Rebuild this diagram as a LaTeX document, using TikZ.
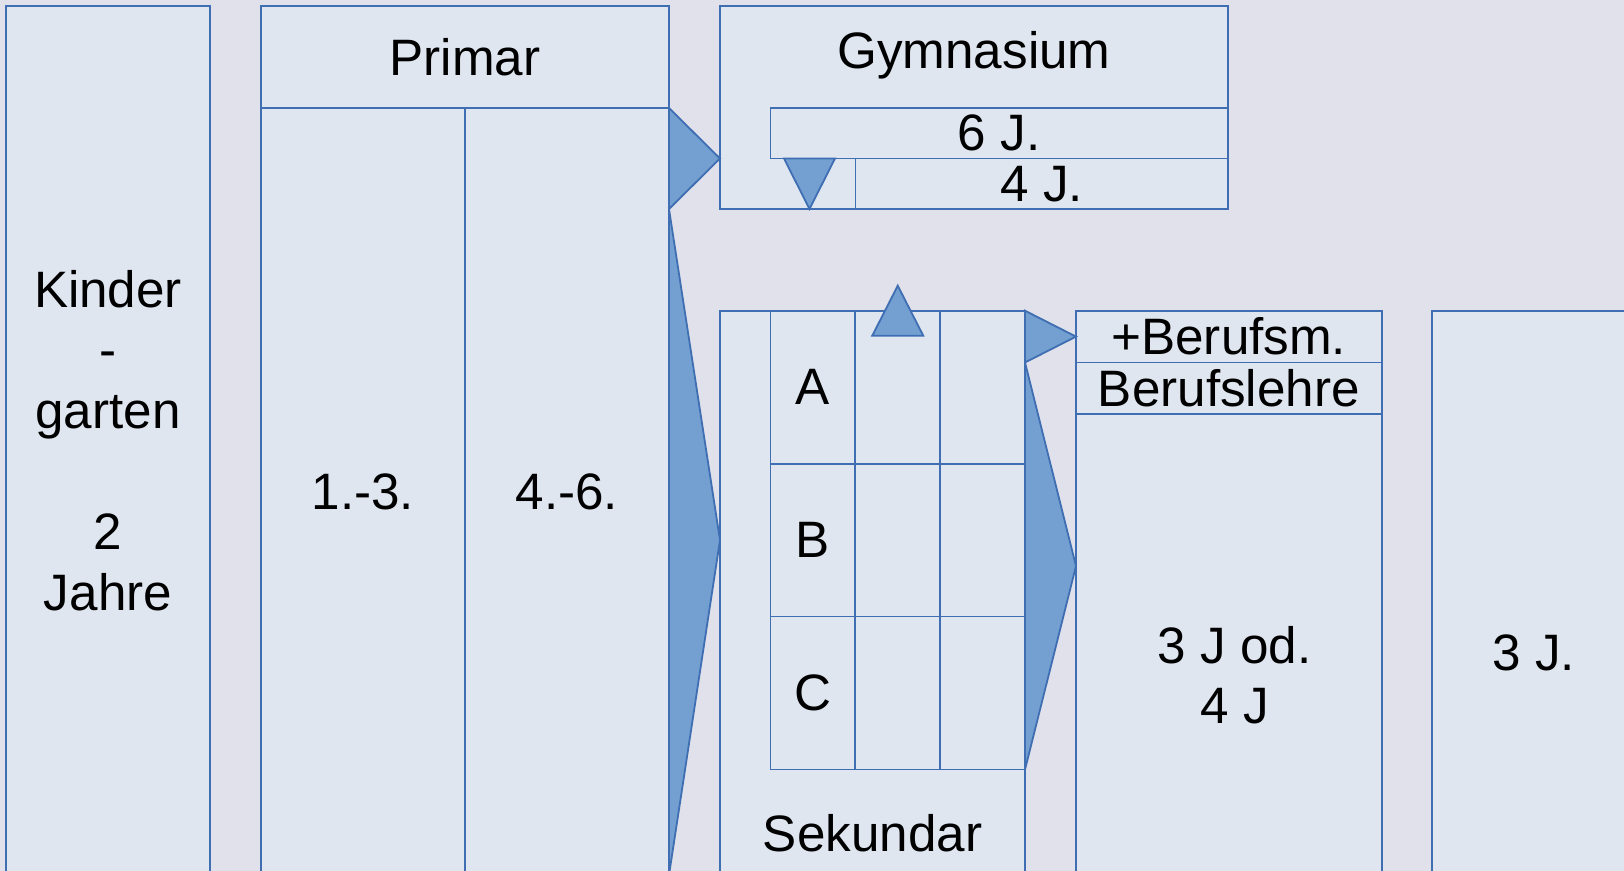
\documentclass[tikz,border=0pt]{standalone}
\usepackage{fontspec}
\setmainfont{Liberation Sans}
\usetikzlibrary{positioning,calc}
\definecolor{bgcol}{HTML}{E0E1EA}
\definecolor{boxfill}{HTML}{DFE6F0}
\definecolor{boxline}{HTML}{3F6EB2}
\definecolor{arrowfill}{HTML}{73A0D1}

\begin{document}
\begin{tikzpicture}[x=0.5pt,y=-0.5pt,font=\fontsize{25.6}{30.3}\selectfont]
\tikzstyle{block}=[rectangle,draw=boxline,fill=boxfill,line width=0.9pt,inner sep=0pt,outer sep=0pt,align=center]
\tikzstyle{cell}=[block,minimum width=42.42pt,minimum height=76.47pt]
\tikzstyle{pointer}=[draw=boxline,fill=arrowfill,line width=0.9pt,line join=miter]
\tikzstyle{caption}=[inner sep=0pt,anchor=base,align=center]

\path[use as bounding box,fill=bgcol] (0,0) rectangle (1624,871);
\clip (0,0) rectangle (1624,871);

% Kindergarten
\node[block,anchor=north west,minimum width=102pt,minimum height=434.5pt] (kg) at (6,6) {Kinder\\-\\garten\\\mbox{}\\2\\Jahre};

% Primar
\node[block,anchor=north west,minimum width=204pt,minimum height=51pt] (prim) at (261,6) {Primar};
\node[block,anchor=north west,minimum width=102pt,minimum height=383.5pt] (p13) at (prim.south west) {1.-3.};
\node[block,minimum width=102pt,minimum height=383.5pt,right=0pt of p13] (p46) {4.-6.};

% Gymnasium
\node[block,anchor=north west,minimum width=254pt,minimum height=101.5pt] (gym) at (720,6) {};
\node[caption] (gymtxt) at ([yshift=-31.2pt]gym.north) {Gymnasium};
\node[block,anchor=north east,minimum width=228.75pt,minimum height=25.25pt] (g6) at ([yshift=-51pt]gym.north east) {6 J.};
\node[block,anchor=north east,minimum width=186.25pt,minimum height=25.25pt] (g4) at (g6.south east) {4 J.};
\coordinate (dn) at ([xshift=19.5pt]g6.south west);
\draw[pointer] ([xshift=-12.75pt]dn) -- ([xshift=12.75pt]dn) -- (dn |- gym.south) -- cycle;

% Sekundar
\node[block,anchor=north west,minimum width=152.5pt,minimum height=282.15pt] (sek) at (720,310.7) {};
\foreach \r/\txt in {0/A,1/B,2/C} {
  \node[cell,anchor=north west] (c-\r-0) at ($(sek.north west)+(50.5,152.93*\r)$) {\txt};
  \node[cell,right=0pt of c-\r-0] (c-\r-1) {};
  \node[cell,right=0pt of c-\r-1] (c-\r-2) {};
}
\draw[pointer] ($(c-0-1.north)+(-25.5,25)$) -- ($(c-0-1.north)+(0,-25)$) -- ($(c-0-1.north)+(25.5,25)$) -- cycle;
\node[caption] (sektxt) at ([yshift=-270.15pt]sek.north) {Sekundar};

% Berufslehre
\node[block,anchor=north west,minimum width=152.8pt,minimum height=25.9pt] (bm) at (1076,310.7) {+Berufsm.};
\node[block,minimum width=152.8pt,minimum height=25.9pt,below=0pt of bm] (bl) {Berufslehre};
\node[block,minimum width=152.8pt,minimum height=230.35pt,below=0pt of bl] (bj) {};
\node[caption] (bjtxt) at ([xshift=3pt,yshift=-154.65pt]bj.north) {3 J od.\\4 J};

% 3 J.
\node[block,anchor=north west,minimum width=102pt,minimum height=282.15pt] (oj) at (1432,310.7) {};
\node[caption] (ojtxt) at ([yshift=-180.15pt]oj.north) {3 J.};

% Pfeile
\draw[pointer] (p46.north east) -- (gym.west |- g6.south) -- (p46.east |- gym.south) -- cycle;
\draw[pointer] (p46.east |- gym.south) -- (sek.west |- c-1-0.center) -- (p46.south east) -- cycle;
\draw[pointer] (sek.north east) -- (bm.west) -- (sek.east |- bm.south) -- cycle;
\coordinate (mid) at ($(sek.east |- bm.south)!0.5!(c-2-2.south east)$);
\draw[pointer] (sek.east |- bm.south) -- (bj.west |- mid) -- (c-2-2.south east) -- cycle;
\end{tikzpicture}
\end{document}
